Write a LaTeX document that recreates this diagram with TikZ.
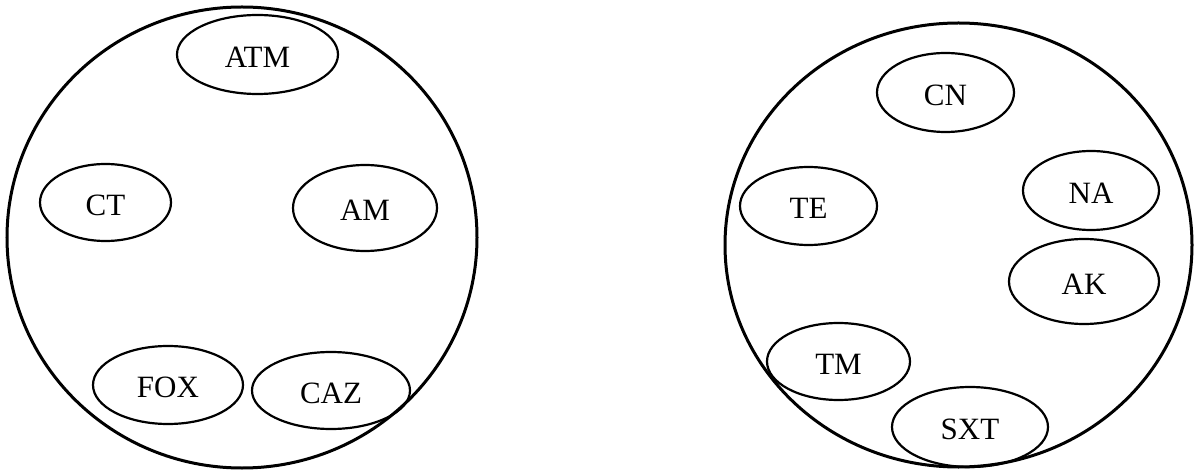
\documentclass[tikz,border=0pt]{standalone}
\usepackage{fontspec}
\setmainfont{Liberation Serif}
\usetikzlibrary{shapes.geometric}
\begin{document}
\begin{tikzpicture}[x=1pt,y=-1pt,
  group/.style={draw, ellipse, line width=3pt, inner sep=0pt},
  item/.style={draw, ellipse, line width=2.2pt, inner sep=0pt,
    text height=25.5pt, text depth=0pt, font=\fontsize{31}{37}\selectfont},
  sz/.style 2 args={minimum width=#1pt, minimum height=#2pt}]
\useasboundingbox (0,0) rectangle (1194,470);

% left group
\node[group, sz={470}{461}] (left) at (242,237.5) {};
\node[item, sz={161}{79}] (atm) at (257.5,54.5) {ATM};
\node[item, sz={131}{77}] (ct)  at (105.5,202.5) {CT};
\node[item, sz={144}{86}] (am)  at (365,208) {AM};
\node[item, sz={150}{78}] (fox) at (168,385) {FOX};
\node[item, sz={158}{77}] (caz) at (331,390.5) {CAZ};

% right group
\node[group, sz={467}{444}] (right) at (958.5,245) {};
\node[item, sz={137}{79}] (cn)  at (945.5,92.5) {CN};
\node[item, sz={137}{78}] (te)  at (808.5,206) {TE};
\node[item, sz={136}{79}] (na)  at (1091,190.5) {NA};
\node[item, sz={150}{85}] (ak)  at (1084,281.5) {AK};
\node[item, sz={143}{77}] (tm)  at (838.5,361.5) {TM};
\node[item, sz={156}{80}] (sxt) at (970,427) {SXT};
\end{tikzpicture}
\end{document}
